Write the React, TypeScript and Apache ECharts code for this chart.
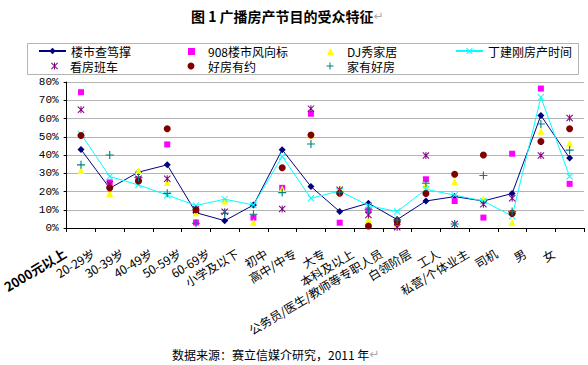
import React, { useEffect, useRef } from "react";
import * as echarts from "echarts";

const categories = [
  "2000元以上", "20-29岁", "30-39岁", "40-49岁", "50-59岁", "60-69岁",
  "小学及以下", "初中", "高中/中专", "大专", "本科及以上",
  "公务员/医生/教师等专职人员", "白领阶层", "工人", "私营/个体业主", "司机", "男", "女",
];

const seriesNames = ["楼市查笃撑", "908楼市风向标", "DJ秀家居", "丁建刚房产时间", "看房班车", "好房有约", "家有好房"];

const louShi = [43, 21.8, 30.6, 34.6, 8.4, 4, 12.6, 42.9, 22.7, 9, 13.6, 4.6, 14.8, 17.2, 14.8, 18.9, 61.7, 38.3];
const fm908 = [74.4, 25, 26.7, 45.8, 3, null, 5.7, 22, 62.6, 2.9, 9.9, 2.6, 26.7, 14.8, 5.7, 40.7, 76.4, 24.2];
const djXiu = [31.5, 18.9, 31.5, 25, 8.4, 14.8, 3, 21.4, 51, 21.8, 4.5, 2, 23.6, 25.5, 16, 3, 53, 46.5];
const dingJianGang = [51.5, 28.2, 23.6, 18, 12.3, 15.8, 12.6, 39.2, 16.3, 20.3, 12.3, 9, 21.2, 18, 14.8, 6.5, 71.6, 28.2];
const kanFang = [64.8, 24, 27, 27, 10.3, 8.9, null, 10.4, 65.4, 20.9, 7.1, 0.4, 39.7, 2.2, 13, 16.3, 39.7, 60.3];
const haoFang = [50.7, 22, 25.8, 54.4, 10, null, null, 33, 51, 19, 1.1, 3.5, 18.9, 29.5, 40, 8, 47.4, 54.4];
const jiaYou = [34.6, 40, 27.7, 19, 2.6, 8, 7.5, 19.4, 46, 19.6, 10.3, 4.4, 24.5, 2.2, 28.8, 9, 57, 42.7];

const yTicks = [0, 10, 20, 30, 40, 50, 60, 70, 80];

const X_PATH = "path://M0,1 L1,0 L10,9 L9,10 Z M9,0 L10,1 L1,10 L0,9 Z";
const STAR_PATH = "path://M0,1 L1,0 L10,9 L9,10 Z M9,0 L10,1 L1,10 L0,9 Z M4.3,0 L5.7,0 L5.7,10 L4.3,10 Z";
const PLUS_PATH = "path://M4.3,0 L5.7,0 L5.7,4.3 L10,4.3 L10,5.7 L5.7,5.7 L5.7,10 L4.3,10 L4.3,5.7 L0,5.7 L0,4.3 L4.3,4.3 Z";

const CJK = "'Noto Sans CJK SC', 'DejaVu Sans', sans-serif";

export default function App() {
  const ref = useRef<HTMLDivElement>(null);
  useEffect(() => {
    document.body.style.margin = "0";
    const chart = echarts.init(ref.current!, null, { renderer: "svg" });
    const lineLegend = (name: string, left: number, top: number) => ({
      data: [name], left, top, itemWidth: 27, itemHeight: 8, itemGap: 0, padding: 0,
      textStyle: { fontSize: 12, lineHeight: 13, color: "#000", fontFamily: CJK },
      selectedMode: false,
    });
    const dotLegend = (name: string, cx: number, textX: number, top: number) => ({
      data: [name], left: cx - 3.5, top, itemWidth: 7, itemHeight: 7, itemGap: 0, padding: 0,
      textStyle: {
        fontSize: 12, lineHeight: 13, color: "#000", fontFamily: CJK,
        padding: [0, 0, 0, textX - (cx - 3.5) - 12],
      },
      selectedMode: false,
    });
    const r1 = 44.5, r2 = 59;
    chart.setOption({
      animation: false,
      backgroundColor: "#fff",
      title: {
        text: "{t|图 1 广播房产节目的受众特征}{r|↵}",
        left: 191, top: 9, padding: 0,
        textStyle: {
          rich: {
            t: { fontSize: 14, fontWeight: "bold", color: "#000", fontFamily: CJK },
            r: { fontSize: 12, fontWeight: "normal", color: "#aaa", fontFamily: "'DejaVu Sans', sans-serif" },
          },
        },
      },
      legend: [
        lineLegend(seriesNames[0], 38, r1),
        dotLegend(seriesNames[1], 191.5, 208, r1 + 0.5),
        dotLegend(seriesNames[2], 330.5, 347, r1 + 0.5),
        lineLegend(seriesNames[3], 455, r1),
        dotLegend(seriesNames[4], 54.5, 70, r2 + 0.5),
        dotLegend(seriesNames[5], 191, 208, r2 + 0.5),
        dotLegend(seriesNames[6], 330, 347, r2 + 0.5),
      ],
      graphic: [
        {
          type: "rect",
          shape: { x: 27.5, y: 43.5, width: 551, height: 31 },
          style: { fill: "none", stroke: "#b4b4b4", lineWidth: 1 },
          silent: true,
        },
        {
          type: "text",
          x: 172,
          y: 348,
          style: {
            text: "{t|数据来源：赛立信媒介研究，2011 年}{r|↵}",
            rich: {
              t: { fontSize: 12, fontWeight: "normal", fill: "#000", fontFamily: CJK },
              r: { fontSize: 12, fill: "#aaa", fontFamily: "'DejaVu Sans', sans-serif" },
            },
          },
          silent: true,
        },
      ],
      grid: { left: 33, right: 4, top: 82, bottom: 137, containLabel: false },
      xAxis: {
        type: "category",
        data: categories,
        boundaryGap: true,
        axisLine: { show: true, lineStyle: { color: "#000", width: 1 } },
        axisTick: { show: true, length: 4, lineStyle: { color: "#000" } },
        axisLabel: {
          interval: 0,
          rotate: 31,
          margin: 14,
          padding: [0, 19, 0, 0],
          fontSize: 12,
          color: "#000",
          fontFamily: CJK,
          formatter: (v: string, i: number) => (i === 0 ? `{b|${v}}` : v),
          rich: { b: { fontSize: 13, fontWeight: "bold", color: "#000", fontFamily: CJK } },
        },
        splitLine: { show: false },
      },
      yAxis: {
        type: "value",
        min: yTicks[0],
        max: yTicks[yTicks.length - 1],
        interval: 10,
        axisLine: { show: true, lineStyle: { color: "#000", width: 1 } },
        axisTick: { show: true, length: 3, lineStyle: { color: "#000" } },
        axisLabel: {
          formatter: "{value}%",
          fontSize: 11,
          color: "#000",
          margin: 8,
          fontFamily: "'Liberation Mono', 'DejaVu Sans Mono', monospace",
        },
        splitLine: { show: true, lineStyle: { color: "#b4b4b4", width: 1 } },
      },
      series: [
        {
          name: seriesNames[0], type: "line", data: louShi, z: 2,
          symbol: "diamond", symbolSize: 7, showSymbol: true,
          lineStyle: { color: "#000080", width: 1 },
          itemStyle: { color: "#000080" },
        },
        {
          name: seriesNames[1], type: "scatter", data: fm908, z: 3,
          symbol: "rect", symbolSize: 6, itemStyle: { color: "#FF00FF", opacity: 1 },
        },
        {
          name: seriesNames[2], type: "scatter", data: djXiu, z: 4,
          symbol: "triangle", symbolSize: 7, itemStyle: { color: "#FFFF00", opacity: 1 },
        },
        {
          name: seriesNames[3], type: "line", data: dingJianGang, z: 5,
          symbol: X_PATH, symbolSize: 7, showSymbol: true,
          lineStyle: { color: "#00FFFF", width: 1 },
          itemStyle: { color: "#00FFFF" },
        },
        {
          name: seriesNames[4], type: "scatter", data: kanFang, z: 6,
          symbol: STAR_PATH, symbolSize: 7, itemStyle: { color: "#800080", opacity: 1 },
        },
        {
          name: seriesNames[5], type: "scatter", data: haoFang, z: 7,
          symbol: "circle", symbolSize: 7, itemStyle: { color: "#800000", opacity: 1 },
        },
        {
          name: seriesNames[6], type: "scatter", data: jiaYou, z: 8,
          symbol: PLUS_PATH, symbolSize: 8, itemStyle: { color: "#008080", opacity: 1 },
        },
      ],
    });
    return () => chart.dispose();
  }, []);
  return (
    <div
      ref={ref}
      style={{ position: "absolute", left: 0, top: 0, width: 588, height: 365, background: "#fff" }}
    />
  );
}
